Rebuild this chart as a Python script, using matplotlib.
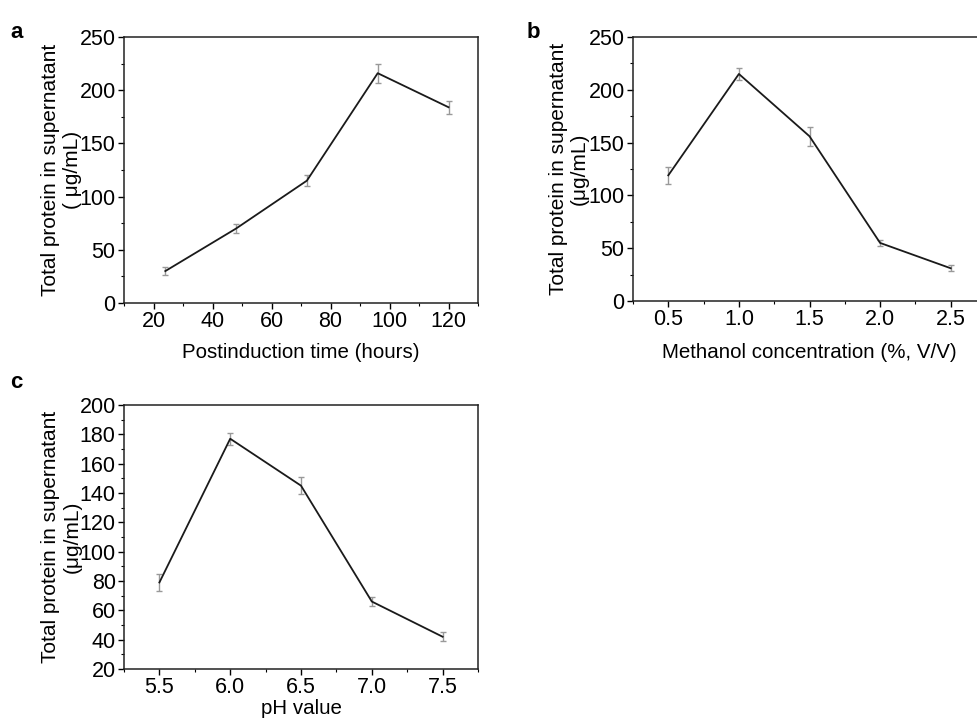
import matplotlib.pyplot as plt
from matplotlib.ticker import MultipleLocator

plt.rcParams['font.family'] = ['Liberation Sans', 'DejaVu Sans']

# panel a: postinduction time
time_h = [24, 48, 72, 96, 120]
protein_time = [30, 70, 115, 216, 184]
err_time = [4, 4, 5, 9, 6]

# panel b: methanol concentration
methanol = [0.5, 1.0, 1.5, 2.0, 2.5]
protein_methanol = [119, 215, 156, 55, 31]
err_methanol = [8, 6, 9, 3, 3]

# panel c: pH
ph = [5.5, 6.0, 6.5, 7.0, 7.5]
protein_ph = [79, 177, 145, 66, 42]
err_ph = [6, 4, 6, 3, 3]

W, H = 977, 718
fig = plt.figure(figsize=(W / 100, H / 100), dpi=100)


def px_axes(left, top, right, bottom):
    return fig.add_axes([left / W, 1 - bottom / H, (right - left) / W, (bottom - top) / H])


def style(ax, x, y, err, xlim, ylim, xmajor, xminor, ymajor, yminor,
          xlabel, ylabel, xlab_y, ylab_x):
    ax.errorbar(x, y, yerr=err, color='#1a1a1a', lw=1.3, ecolor='#999999',
                elinewidth=1.0, capsize=2.5, capthick=1.0)
    ax.set_xlim(*xlim)
    ax.set_ylim(*ylim)
    ax.xaxis.set_major_locator(MultipleLocator(xmajor))
    ax.xaxis.set_minor_locator(MultipleLocator(xminor))
    ax.yaxis.set_major_locator(MultipleLocator(ymajor))
    ax.yaxis.set_minor_locator(MultipleLocator(yminor))
    ax.tick_params(which='both', direction='out', top=False, right=False, labelsize=15.5, pad=2)
    ax.tick_params(which='major', length=4, width=1)
    ax.tick_params(which='minor', length=2.5, width=0.8)
    for s in ax.spines.values():
        s.set_linewidth(1.1)
        s.set_color('#222222')
    ax.set_xlabel(xlabel, fontsize=14.8)
    ax.set_ylabel(ylabel, fontsize=15, linespacing=1.15)
    ax.xaxis.set_label_coords(0.5, xlab_y)
    ax.yaxis.set_label_coords(ylab_x, 0.5)


ax_a = px_axes(124, 37, 478, 303)
style(ax_a, time_h, protein_time, err_time, (10, 130), (0, 250), 20, 10, 50, 25,
      'Postinduction time (hours)', 'Total protein in supernatant\n( μg/mL)', -0.152, -0.12)

ax_b = px_axes(633, 37, 986, 301)
style(ax_b, methanol, protein_methanol, err_methanol, (0.25, 2.75), (0, 250), 0.5, 0.25, 50, 25,
      'Methanol concentration (%, V/V)', 'Total protein in supernatant\n(μg/mL)', -0.16, -0.125)
ax_b.xaxis.set_major_formatter(plt.FormatStrFormatter('%.1f'))

ax_c = px_axes(124, 405, 478, 669)
style(ax_c, ph, protein_ph, err_ph, (5.25, 7.75), (20, 200), 0.5, 0.25, 20, 10,
      'pH value', 'Total protein in supernatant\n(μg/mL)', -0.115, -0.12)
ax_c.xaxis.set_major_formatter(plt.FormatStrFormatter('%.1f'))

fig.text(10 / W, 1 - 33 / H, 'a', fontsize=16, fontweight='bold', va='center')
fig.text(527 / W, 1 - 33 / H, 'b', fontsize=16, fontweight='bold', va='center')
fig.text(10 / W, 1 - 382 / H, 'c', fontsize=16, fontweight='bold', va='center')

fig.savefig('out.png', dpi=100, facecolor='white')
